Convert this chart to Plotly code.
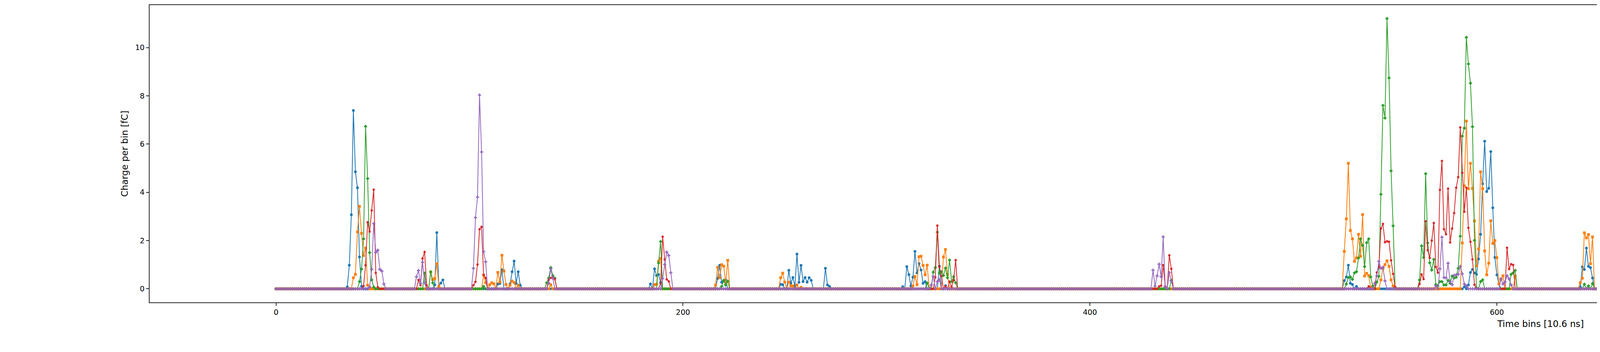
import numpy as np
import plotly.graph_objects as go

# time bins 0..1243, one point per bin
n_bins = 1244

channels = [
    "ChannelData_side0_sector1_layer48_iphi192",
    "ChannelData_side0_sector1_layer48_iphi193",
    "ChannelData_side0_sector1_layer48_iphi194",
    "ChannelData_side0_sector1_layer48_iphi195",
    "ChannelData_side0_sector1_layer48_iphi196",
]
total_charge = [138.6, 179.6, 226.6, 182.2, 98.6]

# non-zero bins per channel: (time bin, charge in fC); every other bin is 0
hits_192 = [
    (35, 0.08), (36, 0.98), (37, 3.07), (38, 7.39), (39, 4.85), (40, 4.19), (41, 1.32), (42, 0.1),
    (78, 0.16), (79, 2.33), (80, 0.13), (81, 0.24), (82, 0.37),
    (109, 0.2), (110, 0.22), (111, 0.79), (115, 0.2), (116, 0.71), (117, 1.15), (118, 0.22),
    (119, 0.71), (120, 0.15),
    (184, 0.2), (186, 0.83), (187, 0.55), (188, 0.59), (189, 0.27),
    (217, 0.43), (218, 0.97), (219, 0.27), (220, 0.32), (221, 0.38),
    (248, 0.19), (249, 0.17), (252, 0.77), (253, 0.23), (254, 0.47), (255, 0.1), (256, 1.44),
    (257, 0.27), (258, 0.97), (259, 0.3), (260, 0.47), (261, 0.28), (262, 0.46), (263, 0.35),
    (270, 0.85), (271, 0.16), (272, 0.1),
    (308, 0.09), (310, 0.92), (311, 0.59), (312, 0.12), (313, 0.48), (314, 1.55), (315, 0.66),
    (316, 1.05), (317, 0.78), (318, 0.23), (319, 0.3), (326, 0.94), (329, 0.13),
    (525, 0.34), (526, 0.49), (527, 0.98), (528, 0.23), (529, 0.18), (531, 0.1),
    (584, 0.08), (586, 0.16), (587, 0.68), (588, 0.8), (589, 0.66), (590, 0.6), (591, 1.24),
    (592, 2.26), (593, 4.35), (594, 6.12), (595, 4.03), (596, 4.17), (597, 5.69), (598, 3.36),
    (599, 1.3), (600, 0.58), (601, 0.2),
    (641, 0.08), (642, 0.91), (643, 0.8), (644, 1.69), (645, 0.93), (646, 0.88), (647, 0.45),
    (658, 0.08), (660, 0.08),
    (717, 0.1), (719, 0.38), (720, 0.19), (721, 0.16), (722, 0.16), (727, 0.48), (732, 0.89),
    (733, 1.75), (734, 0.85), (735, 0.51), (736, 1.28), (737, 0.45),
    (747, 0.12), (751, 0.73), (752, 0.21), (753, 0.43), (754, 0.67), (755, 0.19), (768, 0.43),
    (773, 0.3),
    (801, 0.74), (803, 0.33), (804, 0.33),
    (832, 0.39), (836, 1.39), (837, 0.78), (838, 0.71), (839, 0.39),
    (857, 0.67),
    (888, 0.3), (890, 1.06), (892, 2.66), (893, 1.33),
    (1056, 0.97), (1057, 1.09), (1058, 0.16), (1061, 0.8), (1062, 0.17),
    (1085, 0.08), (1086, 0.38), (1087, 0.43),
    (1123, 0.22), (1124, 0.92), (1125, 0.35), (1126, 1.22), (1127, 3.25), (1128, 3.09),
    (1129, 1.4), (1130, 0.7), (1133, 1.32), (1142, 1.26), (1143, 1.03),
    (1214, 0.1),
]

hits_193 = [
    (38, 0.46), (39, 0.6), (40, 2.36), (41, 3.42), (42, 2.3), (43, 1.38), (44, 1.69), (45, 0.15),
    (76, 0.7), (77, 0.38), (78, 0.43), (79, 1.04), (80, 0.1),
    (102, 0.57), (103, 0.25), (105, 0.17), (106, 0.25), (107, 0.21), (109, 0.68), (110, 0.28),
    (111, 1.39), (112, 0.74), (113, 0.18), (115, 0.15), (116, 0.32), (117, 0.26), (119, 0.15),
    (135, 0.17),
    (186, 0.17), (187, 0.19), (188, 1.14), (189, 1.26),
    (216, 0.16), (217, 0.89), (218, 0.46), (219, 1.0), (220, 0.94), (221, 0.24), (222, 1.18),
    (248, 0.46), (249, 0.65), (250, 0.28), (252, 0.28), (253, 0.12), (254, 0.12), (256, 0.16),
    (258, 0.06),
    (313, 0.12), (314, 0.51), (315, 0.17), (316, 1.33), (317, 1.35), (318, 0.97), (319, 0.58),
    (320, 0.98), (328, 1.32), (329, 1.63), (330, 0.59),
    (525, 1.55), (526, 2.9), (527, 5.2), (528, 2.42), (529, 2.07), (530, 1.14), (531, 1.28),
    (532, 2.26), (533, 1.35), (534, 3.08), (535, 0.53), (536, 0.64), (537, 0.55), (538, 0.05),
    (543, 0.37), (544, 0.85), (545, 1.0), (546, 1.16), (547, 0.93), (548, 0.37), (549, 0.12),
    (583, 1.9), (584, 4.27), (585, 6.95), (586, 4.15), (587, 5.2), (588, 4.16), (589, 2.81),
    (590, 0.95), (591, 1.65), (592, 4.85), (593, 4.15), (594, 1.57), (595, 0.58), (596, 1.06),
    (597, 2.82), (598, 1.88), (599, 2.0), (600, 1.29), (601, 0.2), (602, 0.39), (603, 0.54),
    (609, 0.53),
    (641, 0.26), (642, 0.44), (643, 2.32), (644, 2.11), (645, 2.25), (646, 1.04), (647, 2.15),
    (718, 0.3), (719, 1.18), (731, 0.49), (733, 0.46), (736, 0.43),
    (753, 0.32), (754, 1.36), (755, 1.13), (757, 0.71), (770, 0.66), (771, 1.12), (772, 0.54),
    (773, 0.7), (774, 0.47),
    (802, 0.24), (807, 0.56),
    (837, 0.7), (838, 0.51), (839, 0.24),
    (857, 0.13),
    (888, 1.34), (890, 0.69), (891, 0.54),
    (975, 0.19), (976, 0.85),
    (1025, 0.46),
    (1052, 1.02), (1053, 1.33), (1054, 1.24), (1055, 0.9), (1056, 1.1), (1057, 0.75),
    (1125, 0.47), (1126, 0.7), (1127, 1.2), (1128, 2.05), (1129, 1.61), (1130, 3.12),
    (1131, 2.26), (1132, 0.38), (1140, 0.54), (1141, 1.34), (1142, 1.39), (1143, 1.18),
]

hits_194 = [
    (41, 0.3), (42, 0.82), (43, 2.07), (44, 6.73), (45, 4.57), (46, 1.5), (47, 0.37), (48, 0.07),
    (73, 0.65), (76, 0.7), (77, 0.25),
    (102, 0.1),
    (133, 0.25), (134, 0.45), (135, 0.88), (136, 0.55), (137, 0.44),
    (188, 1.07), (189, 1.96),
    (219, 0.1), (220, 0.35), (221, 0.16), (222, 0.31),
    (320, 0.24), (323, 0.69), (324, 0.88), (325, 2.35), (326, 0.65), (327, 0.71), (328, 0.55),
    (329, 0.86), (330, 0.46), (331, 1.19), (332, 0.3), (333, 0.5), (334, 0.25),
    (440, 0.35),
    (526, 0.2), (527, 0.47), (528, 0.49), (529, 0.39), (530, 0.66), (531, 0.71), (532, 1.28),
    (533, 2.07), (534, 1.8), (535, 0.92), (536, 1.91), (537, 2.07), (538, 0.49), (539, 0.12),
    (541, 0.28), (542, 0.52), (543, 3.92), (544, 7.6), (545, 7.08), (546, 11.2), (547, 8.74),
    (548, 4.89), (549, 2.61), (550, 0.04),
    (562, 0.37), (563, 1.78), (564, 1.3), (565, 4.77), (566, 1.9), (567, 1.08), (568, 0.78),
    (569, 1.22), (570, 0.18), (571, 0.12), (572, 0.3), (573, 0.3), (574, 0.16), (575, 0.16),
    (576, 0.35), (577, 0.23), (578, 0.53), (579, 0.45), (580, 0.48), (581, 0.85), (582, 2.18),
    (583, 6.33), (584, 6.66), (585, 10.42), (586, 9.32), (587, 8.52), (588, 6.72), (589, 2.01),
    (590, 0.04), (592, 0.3), (593, 0.37), (607, 0.6), (608, 0.66), (609, 0.76),
    (643, 0.19), (645, 0.12), (647, 0.22),
    (682, 0.38), (683, 0.3), (684, 1.17), (685, 0.59), (686, 0.99), (687, 0.28),
    (728, 0.3), (732, 0.17), (734, 0.35),
    (757, 0.4), (759, 0.3), (760, 0.56), (762, 0.3), (765, 1.18), (768, 0.66), (770, 0.3),
    (771, 0.48), (772, 0.22),
    (803, 0.16), (805, 0.27), (807, 1.25), (808, 0.46), (809, 0.38),
    (834, 0.16), (836, 0.4), (837, 2.19), (838, 0.43),
    (885, 0.26), (887, 1.72), (888, 2.27), (889, 2.3), (890, 4.45), (891, 3.52), (892, 1.34),
    (893, 1.57), (894, 0.41),
    (923, 0.46),
    (974, 0.53), (977, 0.3), (979, 0.44),
    (1025, 0.13), (1028, 0.27), (1032, 0.93),
    (1049, 0.8), (1050, 1.57), (1051, 1.35), (1052, 1.17), (1053, 1.01), (1054, 0.32),
    (1129, 0.7), (1130, 1.21), (1131, 3.55), (1132, 0.4), (1133, 1.02), (1134, 1.37),
    (1140, 0.65), (1141, 0.8), (1142, 0.43),
]

hits_195 = [
    (43, 0.12), (44, 0.98), (45, 2.76), (46, 2.37), (47, 3.25), (48, 4.11), (49, 0.66), (50, 0.07),
    (70, 0.37), (71, 0.15), (72, 1.26), (73, 1.53), (74, 0.15),
    (97, 0.15), (98, 0.29), (99, 1.01), (100, 2.47), (101, 2.57), (102, 0.58), (103, 0.45),
    (134, 0.37), (135, 0.45), (136, 0.48), (137, 0.4),
    (189, 0.21), (190, 2.16), (191, 1.22), (192, 0.39), (193, 0.31),
    (324, 0.48), (325, 2.62), (326, 0.91), (327, 0.53), (329, 0.1), (331, 0.3), (332, 0.08),
    (333, 0.35), (334, 1.19),
    (434, 0.1), (435, 0.13), (436, 0.98), (437, 0.1), (439, 1.39), (440, 0.83),
    (537, 0.1),
    (541, 0.68), (542, 0.9), (543, 2.5), (544, 2.69), (545, 1.93), (546, 1.97), (547, 1.95),
    (548, 1.18), (549, 0.62), (550, 0.08),
    (562, 0.2), (563, 0.6), (564, 0.4), (565, 2.8), (566, 1.6), (567, 1.28), (568, 2.0),
    (569, 2.73), (570, 0.91), (571, 0.67), (572, 4.1), (573, 5.3), (574, 2.47), (575, 2.26),
    (576, 4.15), (577, 1.92), (578, 2.5), (579, 3.14), (580, 4.19), (581, 4.63), (582, 6.69),
    (583, 4.81), (584, 3.2), (585, 4.19), (586, 2.53), (587, 1.95), (588, 1.22), (589, 0.17),
    (605, 1.7), (606, 0.82), (607, 1.02), (608, 0.99),
    (676, 0.08), (677, 0.96), (678, 0.17), (679, 0.17), (680, 0.26), (681, 0.82), (682, 0.32),
    (683, 0.55), (684, 0.17), (685, 0.44),
    (724, 0.15), (726, 0.56), (728, 1.59), (729, 0.27), (730, 0.3),
    (760, 0.22), (762, 0.85), (763, 0.32), (764, 0.24), (765, 0.24),
    (805, 0.12), (807, 0.38), (809, 0.27), (811, 0.67), (813, 0.19),
    (831, 0.3), (832, 0.16), (834, 0.42), (836, 0.91), (837, 0.59),
    (887, 0.73), (888, 2.33), (889, 1.72), (890, 2.98), (891, 3.91), (892, 3.31), (893, 3.23),
    (894, 0.86), (895, 1.1), (896, 0.16), (897, 0.22),
    (923, 0.27), (925, 0.17),
    (977, 1.12), (980, 0.2),
    (1028, 0.94), (1031, 1.05), (1032, 0.62),
    (1047, 1.1), (1049, 0.54), (1053, 0.31),
    (1131, 0.54), (1132, 0.75), (1133, 1.67), (1134, 1.8), (1135, 0.31), (1142, 0.32),
]

hits_196 = [
    (46, 0.08), (47, 0.81), (48, 2.7), (49, 1.51), (50, 1.6), (51, 0.81), (52, 0.73), (53, 0.2),
    (69, 0.5), (70, 0.76), (71, 0.23), (72, 1.1), (73, 0.25),
    (97, 0.85), (98, 2.95), (99, 3.8), (100, 8.03), (101, 5.67), (102, 1.54), (103, 1.12),
    (134, 0.24), (135, 0.83), (136, 0.44),
    (190, 0.43), (191, 1.01), (192, 1.52), (193, 1.38), (194, 0.67),
    (322, 0.16), (323, 0.51), (325, 0.3), (326, 0.38),
    (431, 0.77), (432, 0.11), (433, 0.54), (434, 1.02), (435, 0.5), (436, 2.15), (437, 0.08),
    (439, 0.67), (440, 0.32),
    (540, 0.23), (541, 0.54), (542, 1.14), (543, 0.85), (544, 0.89), (545, 0.33),
    (570, 0.13), (572, 0.83), (573, 2.14), (574, 0.47), (575, 0.45), (576, 1.06), (577, 0.3),
    (578, 0.17), (579, 0.56), (580, 0.58), (581, 0.6), (582, 0.93), (583, 0.62), (584, 0.2),
    (585, 0.12),
    (602, 0.41), (603, 0.2), (604, 0.29), (605, 0.54), (606, 0.41), (607, 0.16),
    (674, 0.35), (675, 1.24), (676, 1.6), (677, 2.3), (678, 1.3), (679, 0.65), (680, 0.46),
    (681, 0.65), (682, 0.22),
    (727, 0.46), (728, 1.09), (729, 0.35), (730, 0.24),
    (761, 0.1), (766, 0.28), (767, 0.38), (768, 0.46),
    (811, 0.47),
    (834, 0.38), (837, 0.32),
    (890, 0.26), (891, 0.4), (892, 1.04), (893, 1.52), (894, 0.71), (895, 1.54), (896, 0.44),
    (925, 0.58), (930, 0.16), (932, 0.1), (935, 0.15),
    (977, 0.38),
    (1027, 0.22), (1029, 1.49), (1030, 0.73), (1032, 0.38), (1034, 0.38),
    (1046, 0.59), (1049, 0.46),
    (1098, 0.08), (1100, 0.28),
    (1132, 0.86), (1133, 1.32), (1134, 4.49), (1135, 0.59), (1136, 0.51),
    (1161, 0.2),
]

all_hits = [hits_192, hits_193, hits_194, hits_195, hits_196]
colors = ["#1f77b4", "#ff7f0e", "#2ca02c", "#d62728", "#9467bd"]
symbols = ["circle", "square", "diamond", "pentagon", "cross"]

time_bins = np.arange(n_bins)

fig = go.Figure()
for name, q, hits, col, sym in zip(channels, total_charge, all_hits, colors, symbols):
    charge = np.zeros(n_bins)
    for b, v in hits:
        charge[b] = v
    fig.add_trace(go.Scatter(
        x=time_bins,
        y=charge,
        mode="lines+markers",
        name=f"{name}: total charge = {q}fC",
        legendgroup=name,
        line=dict(color=col, width=2),
        marker=dict(symbol=sym, size=7, color=col),
    ))

axis_style = dict(
    showline=True, mirror=True, linecolor="#262626", linewidth=2,
    ticks="outside", ticklen=7, tickwidth=2, tickcolor="#262626",
    showgrid=False, zeroline=False,
    tickfont=dict(size=19, color="black"),
)

pad = 0.05 * (n_bins - 1)
fig.update_layout(
    width=7500, height=900,
    margin=dict(l=375, r=1, t=1, b=135),
    plot_bgcolor="white", paper_bgcolor="white",
    font=dict(family="DejaVu Sans", size=19, color="black"),
    xaxis=dict(axis_style, range=[-pad, n_bins - 1 + pad], dtick=200, tick0=0,
               title=dict(text="Time bins [10.6 ns]", standoff=12)),
    yaxis=dict(axis_style, range=[-0.56, 11.76], dtick=2, tick0=0,
               title=dict(text="Charge per bin [fC]", standoff=12)),
    legend=dict(x=0.9975, xanchor="right", y=1.005, yanchor="top", tracegroupgap=0,
                bgcolor="rgba(0,0,0,0)", font=dict(size=21)),
    showlegend=True,
)

fig.write_html("out.html")
